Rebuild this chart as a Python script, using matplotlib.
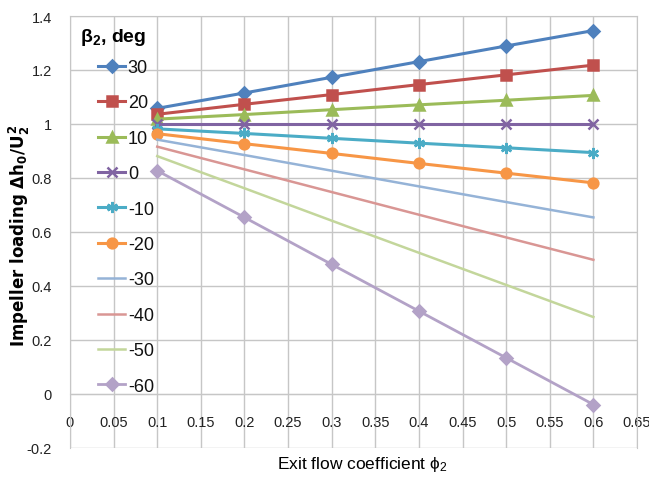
import numpy as np
import matplotlib
matplotlib.use('Agg')
import matplotlib.pyplot as plt
from matplotlib import font_manager

# exit flow coefficient and impeller loading for each blade angle
phi = [0.1, 0.2, 0.3, 0.4, 0.5, 0.6]
beta_labels = ['30', '20', '10', '0', '-10', '-20', '-30', '-40', '-50', '-60']
load_p30 = [1.058, 1.115, 1.173, 1.231, 1.289, 1.346]
load_p20 = [1.036, 1.073, 1.109, 1.146, 1.182, 1.218]
load_p10 = [1.018, 1.035, 1.053, 1.071, 1.088, 1.106]
load_0 = [1.000, 1.000, 1.000, 1.000, 1.000, 1.000]
load_m10 = [0.982, 0.965, 0.947, 0.929, 0.912, 0.894]
load_m20 = [0.964, 0.927, 0.891, 0.854, 0.818, 0.782]
load_m30 = [0.942, 0.885, 0.827, 0.769, 0.711, 0.654]
load_m40 = [0.916, 0.832, 0.748, 0.664, 0.580, 0.497]
load_m50 = [0.881, 0.762, 0.642, 0.523, 0.404, 0.285]
load_m60 = [0.827, 0.654, 0.480, 0.307, 0.134, -0.039]
series = [load_p30, load_p20, load_p10, load_0, load_m10,
          load_m20, load_m30, load_m40, load_m50, load_m60]

x_ticks = [0, 0.05, 0.1, 0.15, 0.2, 0.25, 0.3, 0.35, 0.4, 0.45, 0.5, 0.55, 0.6, 0.65]
x_ticklabels = ['0', '0.05', '0.1', '0.15', '0.2', '0.25', '0.3', '0.35',
                '0.4', '0.45', '0.5', '0.55', '0.6', '0.65']
y_ticks = [-0.2, 0, 0.2, 0.4, 0.6, 0.8, 1.0, 1.2, 1.4]
y_ticklabels = ['-0.2', '0', '0.2', '0.4', '0.6', '0.8', '1', '1.2', '1.4']

colors = ['#4F81BD', '#C0504D', '#9BBB59', '#8064A2', '#4BACC6',
          '#F79646', '#95B3D7', '#D99694', '#C3D69B', '#B3A2C7']
markers = ['D', 's', '^', 'x', (6, 2, 0), 'o', None, None, None, 'D']
msizes = [6.5, 7.5, 7, 7, 8, 7, 0, 0, 0, 6]
widths = [2.2, 2.2, 2.2, 2.2, 2.2, 2.2, 1.8, 1.8, 1.8, 2.0]

names = {f.name for f in font_manager.fontManager.ttflist}
narrow = 'Liberation Sans Narrow' if 'Liberation Sans Narrow' in names else 'Liberation Sans'
plt.rcParams['mathtext.fontset'] = 'dejavusans'
plt.rcParams['mathtext.default'] = 'regular'

fig = plt.figure(figsize=(6.49, 4.89), dpi=100)
ax = fig.add_axes([70 / 649, 1 - 449 / 489, 567 / 649, 432 / 489])

for vals, lab, c, m, ms, lw in zip(series, beta_labels, colors, markers, msizes, widths):
    ax.plot(phi, vals, color=c, lw=lw, marker=m, ms=ms, mec=c, mfc=c,
            mew=1.8, label=lab, zorder=3, clip_on=False)

ax.set_xlim(0, 0.65)
ax.set_ylim(-0.2, 1.4)
ax.set_xticks(x_ticks)
ax.set_xticklabels(x_ticklabels)
ax.set_yticks(y_ticks)
ax.set_yticklabels(y_ticklabels)
ax.grid(True, color='#c6c6c6', lw=1, zorder=0)
ax.set_axisbelow(True)
for side in ['top', 'right', 'left', 'bottom']:
    ax.spines[side].set_color('#c6c6c6')
ax.spines['bottom'].set_position(('data', 0))
ax.tick_params(length=0, labelsize=10.5, colors='#222222')
ax.tick_params(axis='x', pad=15)
ax.tick_params(axis='y', pad=13)
for t in ax.get_xticklabels() + ax.get_yticklabels():
    t.set_family(narrow)

# legend without frame, title placed as separate text
leg = ax.legend(loc='upper left', bbox_to_anchor=(28 / 567, 1 - 43 / 432),
                frameon=False, handlelength=1.5, handletextpad=0.15,
                labelspacing=1.02, borderpad=0, borderaxespad=0,
                prop={'family': narrow, 'size': 13})
for t in leg.get_texts():
    t.set_color('#111111')
fig.text(80 / 649, 1 - 38 / 489, r'$\beta_2$, deg', family=narrow, size=14,
         fontweight='bold', ha='left', va='center')

fig.text(19 / 649, 1 - 236 / 489, r'Impeller loading $\mathbf{\Delta h_0/U_2^{\,2}}$',
         rotation=90, fontweight='bold', family='DejaVu Sans', size=12,
         ha='center', va='center')
fig.text(362 / 649, 1 - 465 / 489, r'Exit flow coefficient $\phi_2$',
         family=narrow, size=12.5, ha='center', va='center')

fig.savefig('out.png', dpi=100)
